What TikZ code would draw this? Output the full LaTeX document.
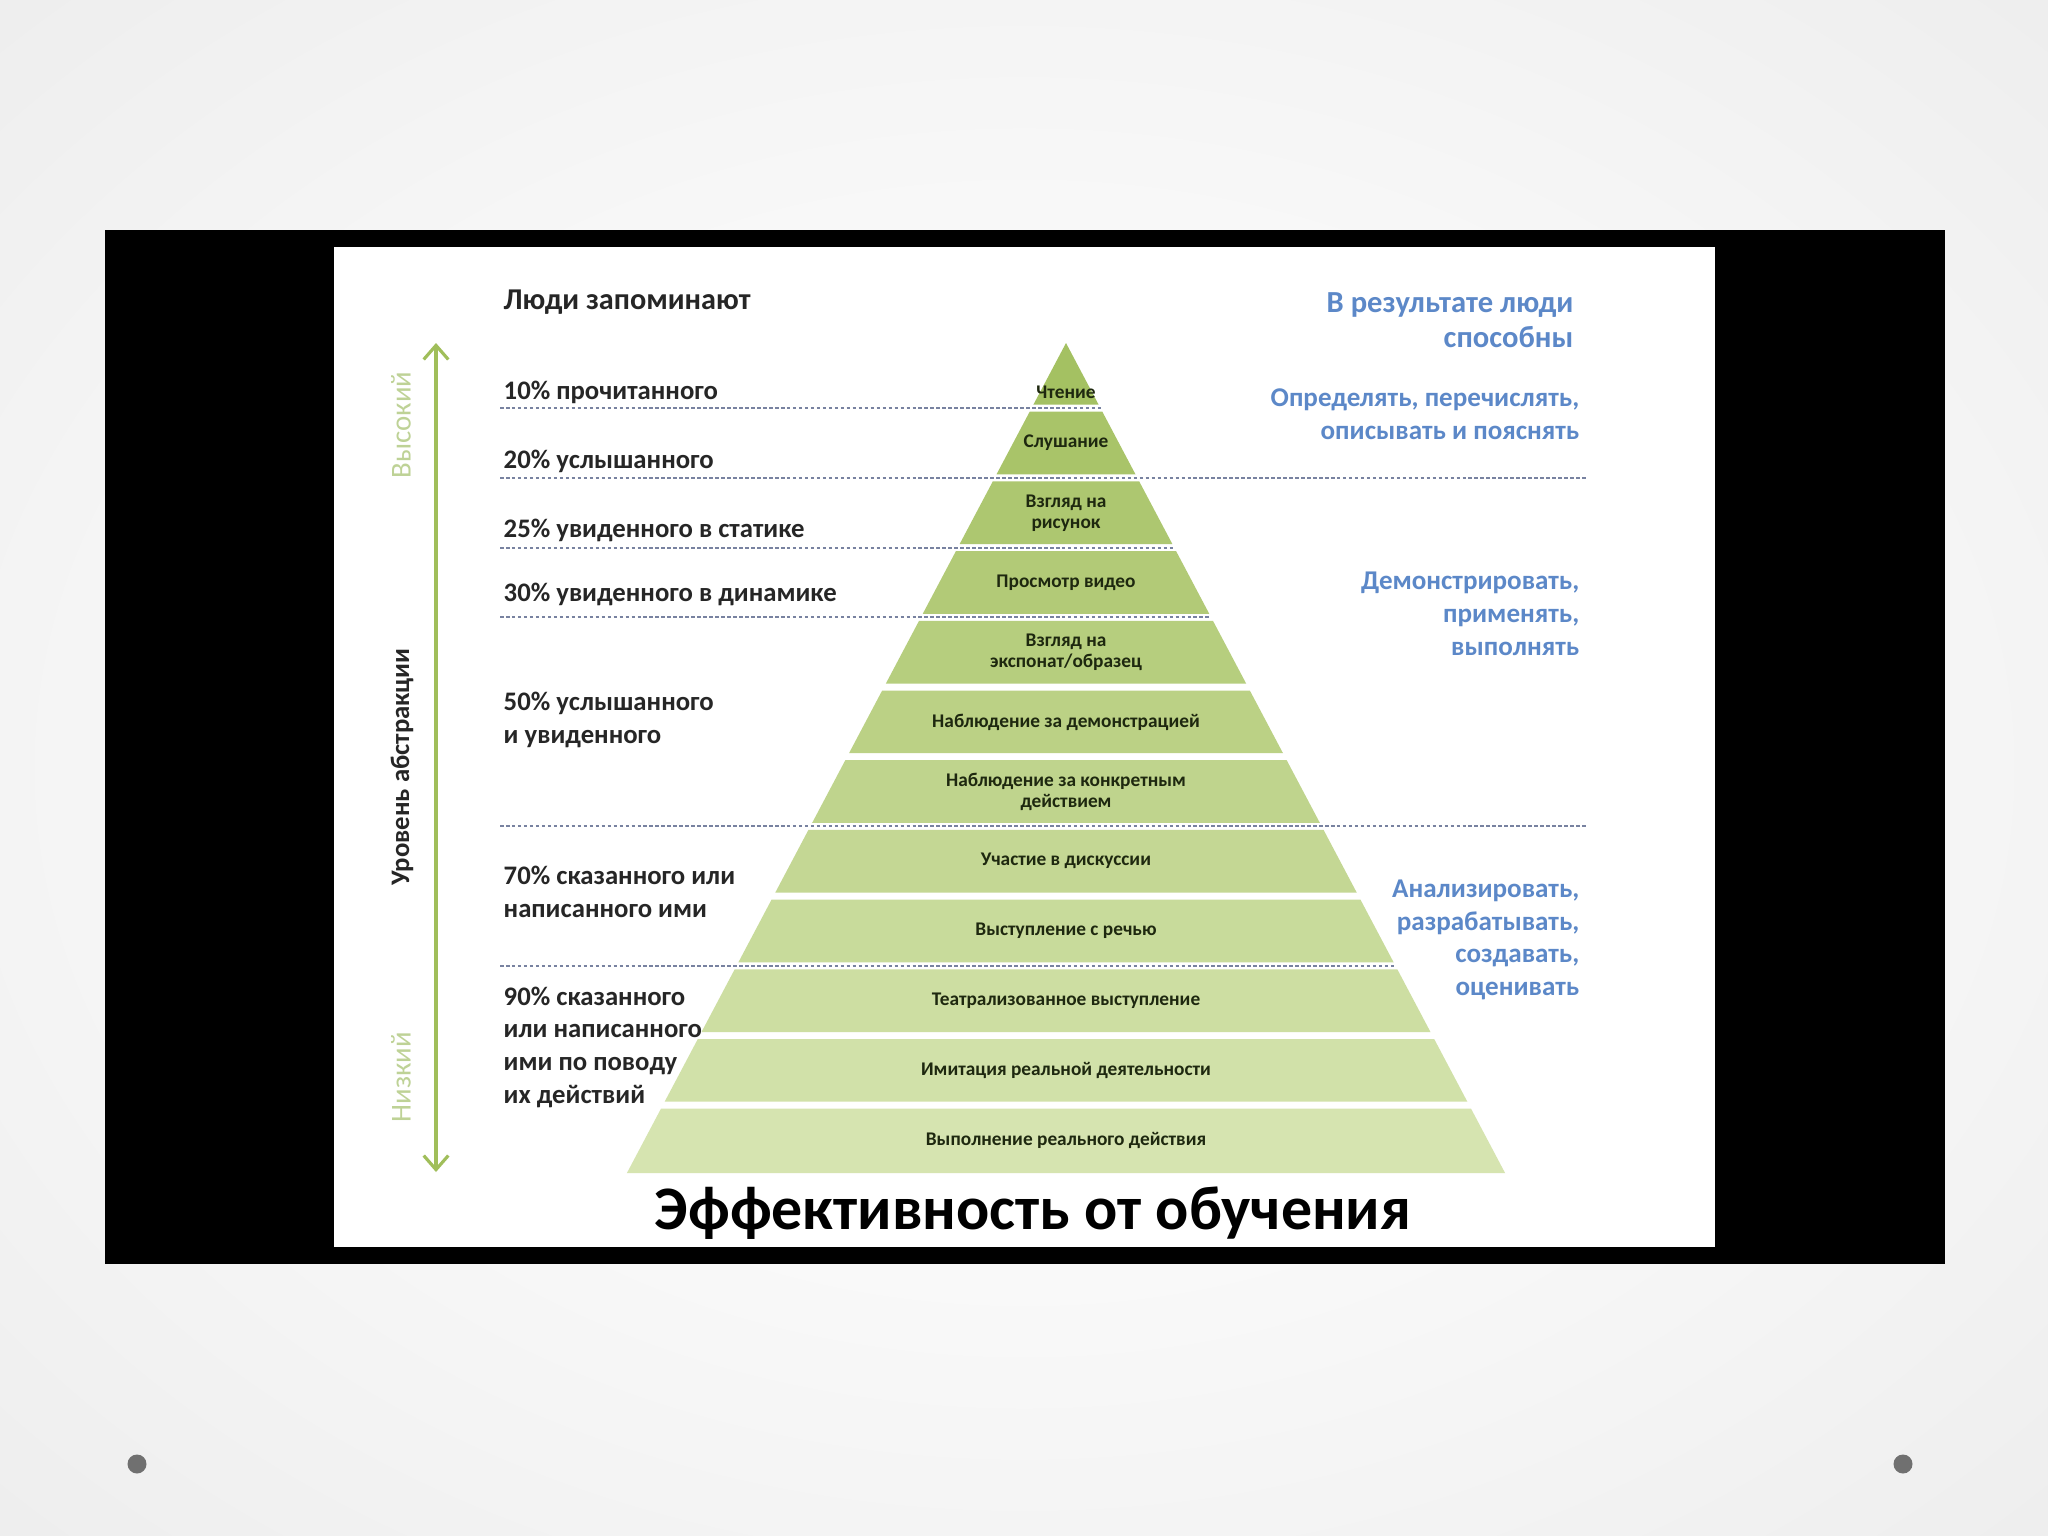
\documentclass[tikz,border=0pt]{standalone}
\usepackage{fontspec}
\setmainfont{Carlito}
\usetikzlibrary{arrows.meta}
\definecolor{bgin}{RGB}{250,250,250}
\definecolor{bgmid}{RGB}{238,238,238}
\definecolor{bgedge}{RGB}{224,224,224}
\definecolor{bgout}{RGB}{212,212,212}
\definecolor{dotgray}{RGB}{112,112,112}
\definecolor{dashc}{RGB}{120,130,160}
\definecolor{bluet}{RGB}{92,136,200}
\definecolor{arrowg}{RGB}{160,190,90}
\definecolor{lightg}{RGB}{190,210,150}
\definecolor{bandtxt}{RGB}{30,40,15}
\definecolor{lefttxt}{RGB}{38,38,38}
\definecolor{bandtop}{RGB}{164,193,98}
\definecolor{bandbot}{RGB}{214,228,176}
\pgfdeclareradialshading{slidebg}{\pgfpoint{0bp}{0bp}}{color(0bp)=(white); color(15bp)=(bgin); color(35bp)=(bgmid); color(50bp)=(bgedge); color(71bp)=(bgout)}
\begin{document}
\begin{tikzpicture}[x=0.01cm,y=-0.01cm,
  lefttext/.style={font=\bfseries\fontsize{7.6}{9.3}\selectfont, text=lefttxt, anchor=west, align=left, inner sep=0pt},
  righttext/.style={font=\bfseries\fontsize{7.7}{9.3}\selectfont, text=bluet, anchor=east, align=right, inner sep=0pt},
  bandtext/.style={font=\bfseries\fontsize{5.5}{6}\selectfont, text=bandtxt, align=center, inner sep=0pt},
  sidetext/.style={font=\fontsize{8.2}{9}\selectfont, text=lightg, rotate=90, inner sep=0pt},
  dashline/.style={dashc, line width=0.55pt, dash pattern=on 1pt off 0.7pt},
]
\useasboundingbox (0,0) rectangle (2048,1536);
\shade[shading=slidebg] (0,0) rectangle (2048,1536);
\fill[black] (104.5,230) rectangle (1945,1264);
\fill[white] (334,247) rectangle (1715,1247);
\fill[dotgray] (137,1464) circle (9.5);
\fill[dotgray] (1903,1464) circle (9.5);

% pyramid bands
\foreach \k in {0,...,11} {
  \pgfmathsetmacro{\yt}{ifthenelse(\k==0,343,338.5+69.7*\k+3.5)}
  \pgfmathsetmacro{\yb}{ifthenelse(\k==11,1173,338.5+69.7*(\k+1)-3.5)}
  \pgfmathsetmacro{\wt}{0.529*(\yt-343)}
  \pgfmathsetmacro{\wb}{0.529*(\yb-343)}
  \pgfmathsetmacro{\mix}{100*\k/11}
  \fill[bandbot!\mix!bandtop] (1066-\wt,\yt) -- (1066+\wt,\yt) -- (1066+\wb,\yb) -- (1066-\wb,\yb) -- cycle;
}

% dashed lines
\foreach \y/\xe in {408.2/1100.6, 547.6/1174.2, 617.3/1211}
  \draw[dashline] (500,\y) -- (\xe,\y);
\draw[dashline] (500,477.9) -- (1587,477.9);
\draw[dashline] (500,826.4) -- (1587,826.4);
\draw[dashline] (500,965.8) -- (1395,965.8);

% band texts
\node[bandtext] (b0) at (1066,392) {Чтение};
\node[bandtext] (b1) at (1066,443) {Слушание};
\node[bandtext] (b2) at (1066,513) {Взгляд на\\рисунок};
\node[bandtext] (b3) at (1066,582.5) {Просмотр видео};
\node[bandtext] (b4) at (1066,652) {Взгляд на\\экспонат/образец};
\node[bandtext] (b5) at (1066,722) {Наблюдение за демонстрацией};
\node[bandtext] (b6) at (1066,791.5) {Наблюдение за конкретным\\действием};
\node[bandtext] (b7) at (1066,861) {Участие в дискуссии};
\node[bandtext] (b8) at (1066,931) {Выступление с речью};
\node[bandtext] (b9) at (1066,1000.5) {Театрализованное выступление};
\node[bandtext] (b10) at (1066,1070) {Имитация реальной деятельности};
\node[bandtext] (b11) at (1066,1140) {Выполнение реального действия};

% left texts
\node[lefttext, font=\bfseries\fontsize{8.6}{10}\selectfont] (l0) at (503,302) {Люди запоминают};
\node[lefttext] (l1) at (503,392) {10\% прочитанного};
\node[lefttext] (l2) at (503,461) {20\% услышанного};
\node[lefttext] (l3) at (503,530) {25\% увиденного в статике};
\node[lefttext] (l4) at (503,594) {30\% увиденного в динамике};
\node[lefttext] (l5) at (503,720) {50\% услышанного\\и увиденного};
\node[lefttext] (l6) at (503,892) {70\% сказанного или\\написанного ими};
\node[lefttext] (l7) at (503,1047) {90\% сказанного\\или написанного\\ими по поводу\\их действий};

% right texts
\node[righttext, font=\bfseries\fontsize{8.7}{10}\selectfont] (r0) at (1574,320) {В результате люди\\способны};
\node[righttext] (r1) at (1580,414) {Определять, перечислять,\\описывать и пояснять};
\node[righttext] (r2) at (1580,614) {Демонстрировать,\\применять,\\выполнять};
\node[righttext] (r3) at (1580,940) {Анализировать,\\разрабатывать,\\создавать,\\оценивать};

% abstraction axis
\coordinate (atop) at (436,343);
\coordinate (abot) at (436,1172);
\draw[arrowg, line width=0.9pt, {Straight Barb[length=4pt,width=7pt]}-{Straight Barb[length=4pt,width=7pt]}] (atop) -- (abot);
\node[sidetext] (hi) at (401,425) {Высокий};
\node[sidetext, font=\bfseries\fontsize{7.6}{9}\selectfont, text=lefttxt] (lvl) at (402,767) {Уровень абстракции};
\node[sidetext] (lo) at (401,1077) {Низкий};

% title
\node[font=\bfseries\fontsize{17.6}{20}\selectfont, inner sep=0pt] (title) at (1033,1213) {Эффективность от обучения};
\end{tikzpicture}
\end{document}
